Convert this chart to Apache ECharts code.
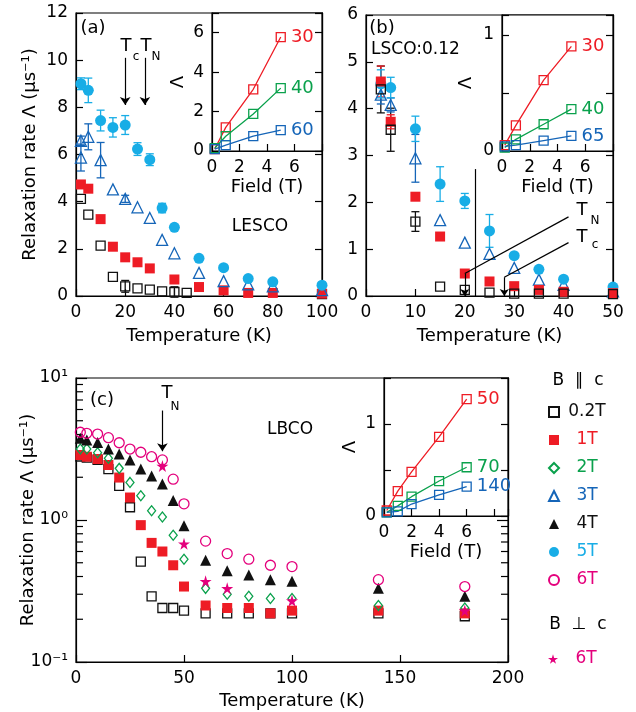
<!DOCTYPE html>
<html>
<head>
<meta charset="utf-8">
<script src="https://cdn.jsdelivr.net/npm/echarts@6/dist/echarts.min.js"></script>
<style>
  html, body { margin: 0; padding: 0; background: #fff; }
  #chart { width: 636px; height: 712px; }
</style>
</head>
<body>
<div id="chart"></div>
<script>
// ---- panel (a) LESCO: relaxation rate vs temperature
const aT02 = [2, 5, 10, 15, 20, 25, 30, 35, 40, 45, 100]
const a02 = [4.12, 3.45, 2.14, 0.81, 0.41, 0.32, 0.27, 0.20, 0.17, 0.13, 0.08]
const a02err = [0, 0, 0, 0, 0.25, 0, 0, 0, 0.22, 0, 0]
const aT1 = [2, 5, 10, 15, 20, 25, 30, 40, 50, 60, 70, 80, 100]
const a1 = [4.73, 4.55, 3.26, 2.09, 1.64, 1.43, 1.17, 0.70, 0.38, 0.24, 0.13, 0.13, 0.10]
const aT3 = [2, 2, 5, 10, 15, 20, 25, 30, 35, 40, 50, 60, 70, 80, 100]
const a3 = [6.58, 5.87, 6.75, 5.76, 4.52, 4.12, 3.76, 3.31, 2.38, 1.81, 0.98, 0.63, 0.49, 0.41, 0.25]
const a3err = [0.2, 0.57, 0.55, 0.75, 0, 0.15, 0, 0, 0, 0, 0, 0, 0, 0, 0]
const aT5 = [2, 5, 10, 15, 20, 25, 30, 35, 40, 50, 60, 70, 80, 100]
const a5 = [9.0, 8.72, 7.44, 7.15, 7.25, 6.23, 5.78, 3.73, 2.91, 1.60, 1.20, 0.74, 0.60, 0.46]
const a5err = [0.25, 0.52, 0.44, 0.41, 0.40, 0.27, 0.25, 0.2, 0, 0, 0, 0, 0, 0]
// inset (a): rate vs field at 30, 40, 60 K
const fieldA = [0.2, 1, 3, 5]
const ai30 = [0.1, 1.2, 3.13, 5.78]
const ai40 = [0.15, 0.75, 1.88, 3.19]
const ai60 = [0.1, 0.3, 0.75, 1.06]

// ---- panel (b) LSCO:0.12
const bT = [3, 5, 10, 15, 20, 25, 30, 35, 40, 50]
const b02 = [4.41, 3.55, 1.59, 0.20, 0.13, 0.07, 0.05, 0.05, 0.05, 0.04]
const b02err = [0.5, 0.46, 0.21, 0, 0, 0, 0, 0, 0, 0]
const b1 = [4.58, 3.72, 2.12, 1.27, 0.48, 0.31, 0.21, 0.13, 0.09, 0.06]
const b1err = [0.33, 0.15, 0, 0, 0, 0, 0, 0, 0, 0]
const b3 = [4.30, 4.08, 2.94, 1.62, 1.14, 0.90, 0.60, 0.35, 0.24, 0.10]
const b3err = [0.2, 0.15, 0.51, 0, 0, 0, 0, 0, 0, 0]
const b5 = [4.53, 4.45, 3.57, 2.39, 2.03, 1.39, 0.86, 0.57, 0.36, 0.19]
const b5err = [0.3, 0.22, 0.27, 0.37, 0.16, 0.35, 0, 0, 0, 0]
// inset (b): 30, 40, 65 K
const fieldB = [0.2, 1, 3, 5]
const bi30 = [0.05, 0.22, 0.61, 0.90]
const bi40 = [0.03, 0.10, 0.23, 0.36]
const bi65 = [0.04, 0.05, 0.09, 0.13]

// ---- panel (c) LBCO, log scale
const cT = [2, 5, 10, 15, 20, 25, 30, 35, 40, 45, 50, 60, 70, 80, 90, 100, 140, 180]
const c02 = [2.80, 2.75, 2.65, 2.28, 1.74, 1.23, 0.51, 0.29, 0.24, 0.24, 0.23, 0.22, 0.22, 0.22, 0.22, 0.22, 0.22, 0.21]
const c1 = [2.87, 2.79, 2.69, 2.44, 1.99, 1.44, 0.92, 0.69, 0.60, 0.48, 0.34, 0.25, 0.24, 0.24, 0.22, 0.23, 0.23, 0.22]
const c2 = [3.16, 3.16, 2.98, 2.72, 2.31, 1.84, 1.48, 1.16, 1.05, 0.78, 0.53, 0.33, 0.30, 0.29, 0.28, 0.28, 0.25, 0.24]
const c4 = [3.76, 3.66, 3.52, 3.16, 2.92, 2.65, 2.29, 2.04, 1.79, 1.37, 0.91, 0.52, 0.44, 0.41, 0.38, 0.37, 0.33, 0.29]
const c6 = [4.15, 4.08, 4.03, 3.80, 3.50, 3.16, 3.00, 2.79, 2.65, 1.94, 1.30, 0.71, 0.58, 0.53, 0.48, 0.47, 0.38, 0.34]
const cTperp = [40, 50, 60, 70, 100, 180]
const c6perp = [2.40, 0.68, 0.37, 0.33, 0.27, 0.23]
// inset (c): 50, 70, 140 K
const fieldC = [0.2, 1, 2, 4, 6]
const ci50 = [0.06, 0.27, 0.48, 0.86, 1.27]
const ci70 = [0.04, 0.11, 0.21, 0.38, 0.53]
const ci140 = [0.04, 0.05, 0.13, 0.23, 0.32]
// minor ticks of the log axis
const logMinor = [0.2, 0.3, 0.4, 0.5, 0.6, 0.7, 0.8, 0.9, 2, 3, 4, 5, 6, 7, 8, 9]

const FONT = 'DejaVu Sans'
const K = '#111111'
const R = '#ee1c25'
const G = '#0aa14c'
const B = '#1565b8'
const C = '#18ade6'
const M = '#e4007c'
const STAR = 'path://M50,0 L61,35 L98,35 L68,57 L79,91 L50,70 L21,91 L32,57 L2,35 L39,35 Z'

const sty = {
  '0.2T': { symbol: 'rect', color: K, open: true, size: 9 },
  '1T': { symbol: 'rect', color: R, open: false, size: 10 },
  '2T': { symbol: 'diamond', color: G, open: true, size: [8, 10] },
  '3T': { symbol: 'triangle', color: B, open: true, size: 11 },
  '4T': { symbol: 'triangle', color: K, open: false, size: 11 },
  '5T': { symbol: 'circle', color: C, open: false, size: 11 },
  '6T': { symbol: 'circle', color: M, open: true, size: 10 },
  '6T⊥': { symbol: STAR, color: M, open: false, size: 12 }
}

const pts = (xs, ys) => xs.map((x, i) => [x, ys[i]])

function dots (name, xi, yi, xs, ys, extra) {
  const s = sty[name]
  return Object.assign({
    type: 'scatter',
    name: name,
    xAxisIndex: xi,
    yAxisIndex: yi,
    data: pts(xs, ys),
    symbol: s.symbol,
    symbolSize: s.size,
    z: 2,
    silent: true,
    itemStyle: s.open
      ? { color: 'rgba(255,255,255,0)', borderColor: s.color, borderWidth: 1.3, opacity: 1 }
      : { color: s.color, opacity: 1 }
  }, extra || {})
}

// vertical error bars with caps
function errBars (xi, yi, xs, ys, es, col) {
  return {
    type: 'custom',
    xAxisIndex: xi,
    yAxisIndex: yi,
    z: 1,
    silent: true,
    data: xs.map((x, i) => [x, ys[i], es[i]]).filter(d => d[2] > 0),
    renderItem: (params, api) => {
      const x = api.value(0)
      const y = api.value(1)
      const e = api.value(2)
      const lo = api.coord([x, y - e])
      const hi = api.coord([x, y + e])
      const st = { stroke: col, lineWidth: 1.3 }
      return {
        type: 'group',
        children: [
          { type: 'line', shape: { x1: lo[0], y1: lo[1], x2: hi[0], y2: hi[1] }, style: st },
          { type: 'line', shape: { x1: lo[0] - 4, y1: lo[1], x2: lo[0] + 4, y2: lo[1] }, style: st },
          { type: 'line', shape: { x1: hi[0] - 4, y1: hi[1], x2: hi[0] + 4, y2: hi[1] }, style: st }
        ]
      }
    }
  }
}

// inset: open squares joined by a line, temperature label at the end
function fieldLine (label, xi, yi, xs, ys, col) {
  const data = pts(xs, ys).map((p, i, arr) => i === arr.length - 1
    ? { value: p, label: { show: true, position: 'right', distance: 5, formatter: label, color: col, fontFamily: FONT, fontSize: 18 } }
    : p)
  return {
    type: 'line',
    xAxisIndex: xi,
    yAxisIndex: yi,
    data: data,
    symbol: 'rect',
    symbolSize: 9,
    showSymbol: true,
    z: 5,
    silent: true,
    lineStyle: { color: col, width: 1.3 },
    itemStyle: { color: 'rgba(255,255,255,0)', borderColor: col, borderWidth: 1.3, opacity: 1 }
  }
}

const arrowLine = {
  silent: true,
  animation: false,
  symbol: ['none', 'arrow'],
  symbolSize: 8,
  label: { show: false },
  lineStyle: { color: '#000', width: 1.2, type: 'solid' }
}

const tick = (len) => ({ show: true, inside: true, length: len || 7, lineStyle: { color: '#000', width: 1.2 } })
const lbl = (fmt) => ({ color: '#000', fontFamily: FONT, fontSize: 17, margin: 8, formatter: fmt })
const nameStyle = { color: '#000', fontFamily: FONT, fontSize: 18 }
const line = { show: true, lineStyle: { color: '#000', width: 1.2 } }
const YNAME = 'Relaxation rate Λ (μs⁻¹)'

function xAx (gi, min, max, interval, name, gap, fmt, z) {
  return {
    gridIndex: gi, type: 'value', min: min, max: max, interval: interval,
    axisLine: line, axisTick: tick(), axisLabel: lbl(fmt), splitLine: { show: false },
    name: name, nameLocation: 'middle', nameGap: gap, nameTextStyle: nameStyle, nameMoveOverlap: false, z: z || 0
  }
}

function yAx (gi, min, max, interval, name, gap, fmt, z, right) {
  return {
    gridIndex: gi, type: 'value', min: min, max: max, interval: interval,
    position: right ? 'right' : 'left',
    axisLine: line, axisTick: tick(), axisLabel: right ? { show: false } : lbl(fmt),
    splitLine: { show: false },
    name: right ? '' : name, nameLocation: 'middle', nameGap: gap, nameTextStyle: nameStyle, nameMoveOverlap: false, z: z || 0
  }
}

const supExp = { '-1': '⁻¹', '0': '⁰', '1': '¹' }
function logAx (right) {
  return {
    gridIndex: 4, type: 'log', logBase: 10, min: 0.1, max: 10,
    position: right ? 'right' : 'left',
    axisLine: line, axisTick: tick(11),
    axisLabel: right ? { show: false } : lbl(v => '10' + supExp[String(Math.round(Math.log10(v)))]),
    splitLine: { show: false },
    name: right ? '' : YNAME, nameLocation: 'middle', nameGap: 39, nameTextStyle: nameStyle, nameMoveOverlap: false
  }
}

const upTo6 = v => (v <= 6 ? String(v) : '')
const zeroOne = v => (v === 0 || v === 1 ? String(v) : '')

const grids = [
  { left: 76, top: 13, width: 246, height: 283 },
  { left: 212, top: 13, width: 110, height: 138, z: 3 },
  { left: 366, top: 15, width: 247, height: 281 },
  { left: 502, top: 15, width: 111, height: 136, z: 3 },
  { left: 76, top: 378, width: 432, height: 284 },
  { left: 384, top: 378, width: 124, height: 138, z: 3 }
].map(g => Object.assign({ show: true, borderColor: '#000', borderWidth: 1.2, backgroundColor: g.z ? '#fff' : 'transparent' }, g))

const xAxes = [
  xAx(0, 0, 100, 20, 'Temperature (K)', 31),
  xAx(1, 0, 8, 2, 'Field (T)', 27, upTo6, 4),
  xAx(2, 0, 50, 10, 'Temperature (K)', 31),
  xAx(3, 0, 8, 2, 'Field (T)', 27, upTo6, 4),
  xAx(4, 0, 200, 50, 'Temperature (K)', 30),
  xAx(5, 0, 9, 2, 'Field (T)', 27, upTo6, 4)
]

const yAxes = [
  yAx(0, 0, 12, 2, YNAME, 37),
  yAx(1, 0, 7, 2, 'Λ', 25, upTo6, 4),
  yAx(2, 0, 6, 1, '', 0),
  yAx(3, 0, 1.17, 0.5, 'Λ', 27, zeroOne, 4),
  logAx(false),
  yAx(5, 0, 1.5, 0.5, 'Λ', 25, zeroOne, 4),
  yAx(0, 0, 12, 2, '', 0, null, 0, true),
  yAx(1, 0, 7, 2, '', 0, null, 4, true),
  yAx(2, 0, 6, 1, '', 0, null, 0, true),
  yAx(3, 0, 1.17, 0.5, '', 0, null, 4, true),
  logAx(true),
  yAx(5, 0, 1.5, 0.5, '', 0, null, 4, true)
]

const series = [
  // (a)
  errBars(0, 0, aT02, a02, a02err, K),
  errBars(0, 0, aT3, a3, a3err, B),
  errBars(0, 0, aT5, a5, a5err, C),
  dots('0.2T', 0, 0, aT02, a02),
  dots('1T', 0, 0, aT1, a1),
  dots('3T', 0, 0, aT3, a3),
  dots('5T', 0, 0, aT5, a5, {
    markLine: Object.assign({}, arrowLine, {
      data: [
        [{ coord: [20, 10.1] }, { coord: [20, 8.1] }],
        [{ coord: [28, 10.1] }, { coord: [28, 8.1] }]
      ]
    })
  }),
  fieldLine('30', 1, 1, fieldA, ai30, R),
  fieldLine('40', 1, 1, fieldA, ai40, G),
  fieldLine('60', 1, 1, fieldA, ai60, B),
  // (b)
  errBars(2, 2, bT, b02, b02err, K),
  errBars(2, 2, bT, b1, b1err, R),
  errBars(2, 2, bT, b3, b3err, B),
  errBars(2, 2, bT, b5, b5err, C),
  dots('3T', 2, 2, bT, b3),
  dots('5T', 2, 2, bT, b5),
  dots('1T', 2, 2, bT, b1),
  dots('0.2T', 2, 2, bT, b02, {
    markLine: Object.assign({}, arrowLine, {
      symbolSize: 7,
      data: [
        [{ coord: [41, 1.69], symbol: 'none' }, { coord: [20, 0.48], symbol: 'none' }],
        [{ coord: [20, 0.48], symbol: 'none' }, { coord: [20, 0], symbol: 'arrow' }],
        [{ coord: [41, 1.14], symbol: 'none' }, { coord: [28, 0.40], symbol: 'none' }],
        [{ coord: [28, 0.40], symbol: 'none' }, { coord: [28, 0], symbol: 'arrow' }],
        [{ coord: [22.1, 0], symbol: 'none' }, { coord: [22.1, 2.71], symbol: 'none' }]
      ]
    })
  }),
  fieldLine('30', 3, 3, fieldB, bi30, R),
  fieldLine('40', 3, 3, fieldB, bi40, G),
  fieldLine('65', 3, 3, fieldB, bi65, B),
  // (c)
  {
    type: 'custom',
    xAxisIndex: 4,
    yAxisIndex: 4,
    z: 2,
    silent: true,
    data: logMinor.map(v => [0, v]),
    renderItem: (params, api) => {
      const v = api.value(1)
      const l = api.coord([0, v])
      const r = api.coord([200, v])
      const st = { stroke: '#000', lineWidth: 1.2 }
      return {
        type: 'group',
        children: [
          { type: 'line', shape: { x1: l[0], y1: l[1], x2: l[0] + 7, y2: l[1] }, style: st },
          { type: 'line', shape: { x1: r[0], y1: r[1], x2: r[0] - 7, y2: r[1] }, style: st }
        ]
      }
    }
  },
  dots('0.2T', 4, 4, cT, c02),
  dots('1T', 4, 4, cT, c1),
  dots('2T', 4, 4, cT, c2),
  dots('4T', 4, 4, cT, c4),
  dots('6T', 4, 4, cT, c6, {
    markLine: Object.assign({}, arrowLine, {
      data: [[{ coord: [40, 5.9] }, { coord: [40, 3.05] }]]
    })
  }),
  dots('6T⊥', 4, 4, cTperp, c6perp),
  fieldLine('50', 5, 5, fieldC, ci50, R),
  fieldLine('70', 5, 5, fieldC, ci70, G),
  fieldLine('140', 5, 5, fieldC, ci140, B)
]

const legendBase = {
  orient: 'vertical',
  left: 543,
  itemWidth: 10,
  itemHeight: 10,
  itemGap: 10,
  selectedMode: false,
  textStyle: { fontFamily: FONT, fontSize: 17, lineHeight: 18, rich: { c: { width: 46, align: 'center' } } }
}

const txt = (text, x, y, size, extra) => ({
  type: 'text',
  x: x,
  y: y,
  z: 10,
  style: Object.assign({ text: text, fill: '#000', font: size + 'px "' + FONT + '"', align: 'center', verticalAlign: 'middle' }, extra || {})
})

const chart = echarts.init(document.getElementById('chart'), null, { renderer: 'canvas' })
chart.setOption({
  animation: false,
  backgroundColor: '#fff',
  grid: grids,
  xAxis: xAxes,
  yAxis: yAxes,
  series: series,
  legend: [
    Object.assign({}, legendBase, {
      top: 398,
      data: ['0.2T', '1T', '2T', '3T', '4T', '5T', '6T'].map(n => ({ name: n, textStyle: { color: sty[n].color } })),
      formatter: n => '{c|' + n + '}'
    }),
    Object.assign({}, legendBase, {
      top: 645,
      data: [{ name: '6T⊥', textStyle: { color: M } }],
      formatter: () => '{c|6T}'
    })
  ],
  graphic: [
    txt('(a)', 93, 28, 18),
    txt('LESCO', 260, 227, 17),
    txt('T', 126, 46, 18),
    txt('c', 136, 57, 12),
    txt('T', 146, 46, 18),
    txt('N', 156, 57, 12),
    txt('(b)', 382, 28, 18),
    txt('LSCO:0.12', 371, 50, 17, { align: 'left' }),
    txt('T', 582, 210, 18),
    txt('N', 595, 221, 12),
    txt('T', 582, 237, 18),
    txt('c', 595, 245, 12),
    txt('(c)', 102, 400, 18),
    txt('T', 167, 393, 18),
    txt('N', 175, 407, 12),
    txt('LBCO', 290, 430, 17),
    txt('B  ∥  c', 578, 381, 17),
    txt('B  ⊥  c', 578, 625, 17)
  ]
})
</script>
</body>
</html>
